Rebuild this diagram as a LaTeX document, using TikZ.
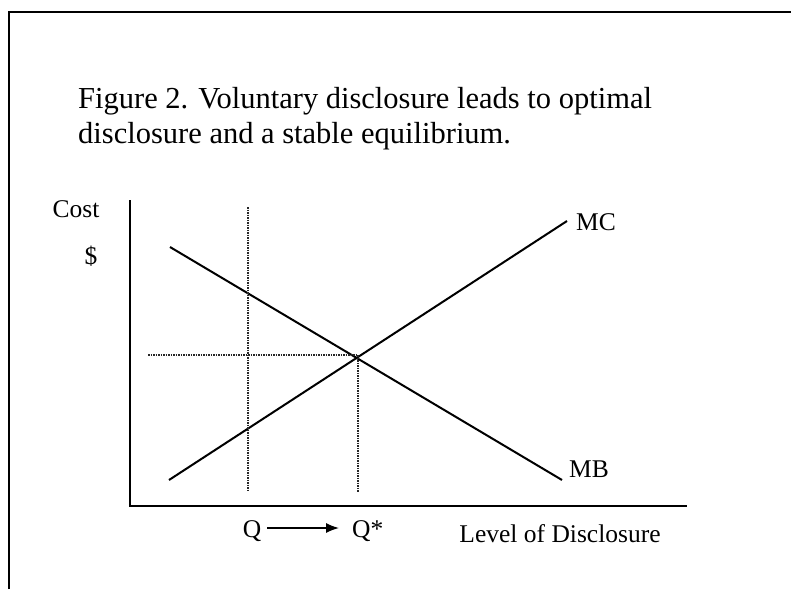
\documentclass[tikz,border=0pt]{standalone}
\usepackage{fontspec}
\setmainfont{Liberation Serif}
\usetikzlibrary{arrows.meta,positioning,calc}
\tikzset{
  axislabel/.style={
    inner sep=0pt,
    font=\fontsize{25.5}{30}\selectfont
  },
  curvelabel/.style={
    anchor=west,
    inner sep=0pt,
    font=\fontsize{25.5}{30}\selectfont
  },
  qlabel/.style={
    inner sep=0pt,
    text height=19pt,
    text depth=0pt,
    font=\fontsize{25.5}{30}\selectfont
  },
  axisline/.style={line width=2pt, black},
  curve/.style={line width=2pt, black},
  guide/.style={densely dotted, line width=1.5pt, black!85},
  flow/.style={-{Latex[length=4.5mm,width=3.5mm]}, line width=1.6pt, black}
}
\begin{document}
\begin{tikzpicture}[x=1pt,y=-1pt]
\useasboundingbox (0,0) rectangle (791,589);
% frame
\draw[line width=2.2pt] (9,589) -- (9,12) -- (791,12);
% title
\node[anchor=north west, align=left, inner sep=0pt, font=\fontsize{30.5}{35}\selectfont] (title) at (78,87) {Figure 2. Voluntary disclosure leads to optimal\\disclosure and a stable equilibrium.};
% axes
\coordinate (origin) at (130,506);
\coordinate (ytop) at (130,200);
\coordinate (xend) at (687,506);
\draw[axisline] (ytop) -- (origin) -- (xend);
\node[axislabel] (cost) at (76,209) {Cost};
\node[axislabel] (dollar) at (91,256) {\$};
\node[axislabel] (level) at (560,534) {Level of Disclosure};
% curves
\coordinate (mbstart) at (170,247);
\coordinate (mbend) at (562,480);
\coordinate (mcstart) at (169,480);
\coordinate (mcend) at (567,221);
\draw[curve] (mbstart) -- (mbend);
\draw[curve] (mcstart) -- (mcend);
\node[curvelabel] (mc) at (576,222) {MC};
\node[curvelabel] (mb) at (569,469) {MB};
% dotted guides
\coordinate (eq) at (358,355);
\coordinate (hstart) at (148,355);
\coordinate (eqfoot) at (358,492);
\coordinate (qtop) at (248,207);
\coordinate (qfoot) at (248,492);
\draw[guide] (hstart) -- (eq);
\draw[guide] (eq) -- (eqfoot);
\draw[guide] (qtop) -- (qfoot);
% Q to Q*
\node[qlabel] (q) at (252,528) {Q};
\node[qlabel, anchor=west] (qstar) at (352,528) {Q*};
\draw[flow, shorten <=6pt, shorten >=13pt] (q) -- (qstar);
\end{tikzpicture}
\end{document}
